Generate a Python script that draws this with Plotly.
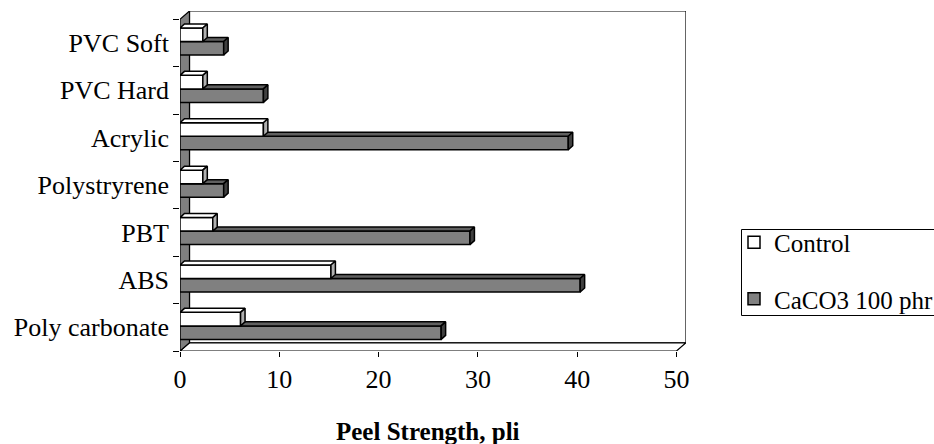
import plotly.graph_objects as go

categories = ["Poly carbonate", "ABS", "PBT", "Polystryrene", "Acrylic", "PVC Hard", "PVC Soft"]
control = [6.1, 15.2, 3.3, 2.3, 8.4, 2.3, 2.3]
caco3 = [26.3, 40.3, 29.2, 4.4, 39.1, 8.4, 4.4]
x_ticks = [0, 10, 20, 30, 40, 50]
series_names = ["Control", "CaCO3 100 phr"]

FONT = "Liberation Serif"
ypos = list(range(len(categories)))
W = 0.285          # bar thickness (category units)
SHIFT = 0.03       # slight group shift due to depth
DXB, DYB = 0.45, 0.085   # bar depth offset (data units)
DXW, DYW = 0.956, 0.173  # wall depth offset

# figure geometry (pixels)
FW, FH = 934, 444
ML, MR, MT, MB = 180, 248, 11, 93
PW, PH = FW - ML - MR, FH - MT - MB


def px_x(p):
    return (p - ML) / PW


def px_y(p):
    return (FH - MB - p) / PH


fig = go.Figure()

# front faces (also used for legend)
fig.add_trace(go.Bar(name=series_names[0], y=ypos, x=control, orientation="h",
                     width=W, offset=SHIFT, marker=dict(color="white", line=dict(color="black", width=1.5)),
                     legendgroup="a"))
fig.add_trace(go.Bar(name=series_names[1], y=ypos, x=caco3, orientation="h",
                     width=W, offset=SHIFT - W, marker=dict(color="#808080", line=dict(color="black", width=1.5)),
                     legendgroup="b"))


def faces(vals, off):
    top_x, top_y, side_x, side_y, fr_x, fr_y = [], [], [], [], [], []
    for y, v in zip(ypos, vals):
        b = y + off
        t = b + W
        top_x += [0, v, v + DXB, DXB, 0, None]
        top_y += [t, t, t + DYB, t + DYB, t, None]
        side_x += [v, v, v + DXB, v + DXB, v, None]
        side_y += [b, t, t + DYB, b + DYB, b, None]
        fr_x += [0, v, v, 0, 0, None]
        fr_y += [b, b, t, t, b, None]
    return (top_x, top_y), (side_x, side_y), (fr_x, fr_y)


def poly(xy, color):
    return go.Scatter(x=xy[0], y=xy[1], fill="toself", fillcolor=color, mode="lines",
                      line=dict(color="black", width=1.5), showlegend=False, hoverinfo="skip")


ct, cs, cf = faces(caco3, SHIFT - W)
fig.add_trace(poly(ct, "#606060"))
fig.add_trace(poly(cs, "#404040"))
kt, ks, kf = faces(control, SHIFT)
fig.add_trace(poly(kf, "white"))
fig.add_trace(poly(kt, "white"))
fig.add_trace(poly(ks, "#b0b0b0"))

y0, y1 = -0.5, len(categories) - 0.5
shapes = [
    # back wall
    dict(type="path", path=f"M {DXW},{y0+DYW} L {DXW},{y1+DYW} L {50+DXW},{y1+DYW} L {50+DXW},{y0+DYW} Z",
         fillcolor="white", line=dict(color="black", width=1.2), layer="below"),
    # floor
    dict(type="path", path=f"M 0,{y0} L 50,{y0} L {50+DXW},{y0+DYW} L {DXW},{y0+DYW} Z",
         fillcolor="white", line=dict(color="black", width=1.2), layer="below"),
    # left wall
    dict(type="path", path=f"M 0,{y0} L 0,{y1} L {DXW},{y1+DYW} L {DXW},{y0+DYW} Z",
         fillcolor="#808080", line=dict(color="black", width=1.2), layer="below"),
    # legend box
    dict(type="rect", xref="paper", yref="paper", x0=px_x(741.5), x1=px_x(945), y0=px_y(315.5), y1=px_y(229.5),
         line=dict(color="black", width=1), fillcolor="rgba(0,0,0,0)", layer="above"),
]

fig.update_layout(
    width=FW, height=FH,
    margin=dict(l=ML, r=MR, t=MT, b=MB, autoexpand=False),
    paper_bgcolor="white", plot_bgcolor="white",
    barmode="overlay",
    shapes=shapes,
    font=dict(family=FONT, size=26, color="black"),
    showlegend=True,
    legend=dict(x=px_x(734), y=px_y(219.5), xref="paper", yref="paper", xanchor="left", yanchor="top",
                borderwidth=0, bgcolor="rgba(0,0,0,0)", tracegroupgap=21,
                font=dict(family=FONT, size=25), itemwidth=30),
    xaxis=dict(range=[0, 50 + DXW], tickvals=x_ticks, ticktext=[str(v) for v in x_ticks],
               ticks="outside", ticklen=5, tickcolor="black", showgrid=False, zeroline=False,
               showline=False, tickfont=dict(family=FONT, size=26), ticklabelstandoff=0),
    yaxis=dict(range=[y0, y1 + DYW], tickvals=ypos, ticktext=categories, ticks="",
               showgrid=False, zeroline=False, showline=False,
               tickfont=dict(family=FONT, size=26), ticklabelstandoff=10,
               minor=dict(tickvals=[i - 0.5 for i in range(len(categories) + 1)], ticks="outside",
                          ticklen=6, tickcolor="black", showgrid=False)),
    annotations=[dict(text="<b>Peel Strength, pli</b>", x=25, xref="x", y=px_y(431), yref="paper",
                      yanchor="middle", showarrow=False, font=dict(family=FONT, size=25))],
)

fig.write_html("out.html")
